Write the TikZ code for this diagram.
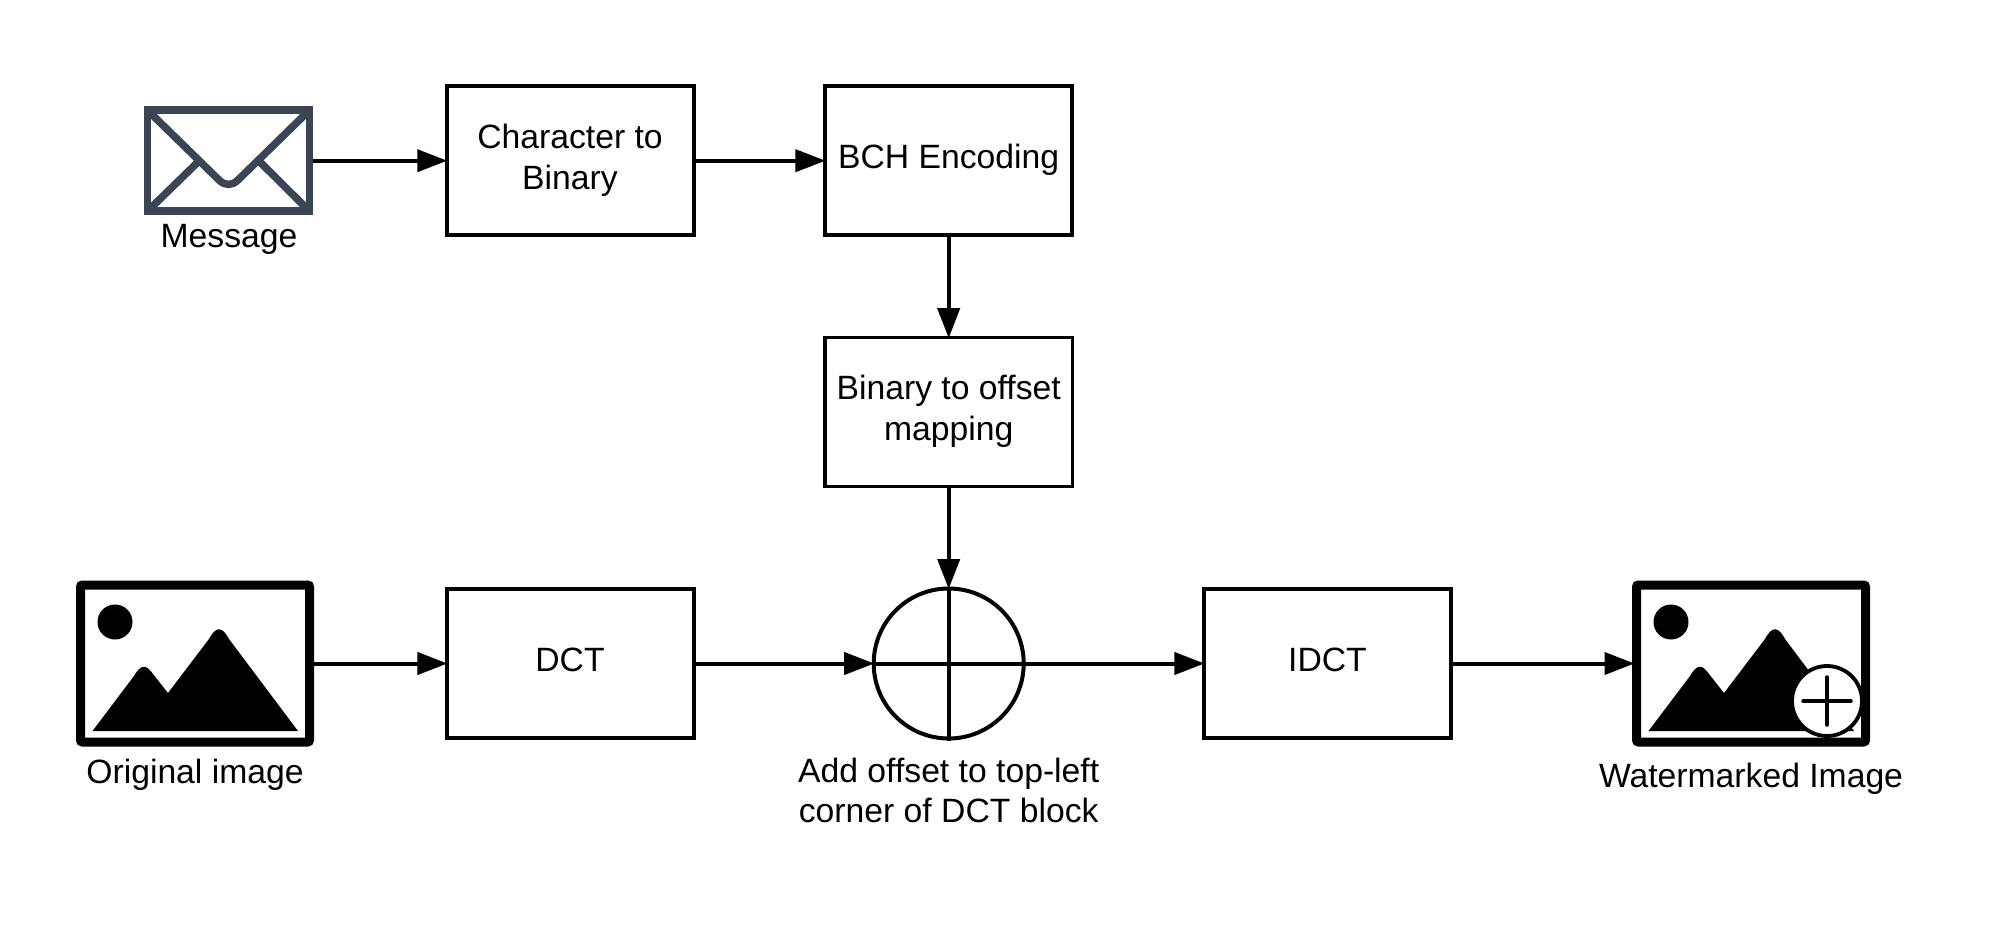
\documentclass[tikz,border=0pt]{standalone}
\usepackage{fontspec}
\setmainfont{Liberation Sans}
\usetikzlibrary{arrows.meta,calc}
\definecolor{envcol}{HTML}{3A4655}
\tikzset{
  x=1pt,y=-1pt,
  boxthick/.style={draw=black,line width=4pt,minimum width=247.5pt,minimum height=149pt,inner sep=0pt},
  boxthin/.style={draw=black,line width=3.6pt,minimum width=247.5pt,minimum height=149pt,inner sep=0pt},
  txt/.style={font=\fontsize{33.7pt}{41pt}\selectfont,align=center,inner sep=0pt,text=black},
  conn/.style={line width=4pt,shorten >=-2.5pt,-{Triangle[length=30pt,width=22pt]}},
  plain/.style={line width=4pt},
  frameicon/.style={draw=black,line width=9pt,rounded corners=2pt,minimum width=229pt,minimum height=157pt,inner sep=0pt},
  envicon/.style={draw=envcol,line width=7.5pt,minimum width=162pt,minimum height=101pt,inner sep=0pt},
  sumcircle/.style={circle,draw=black,line width=4pt,minimum size=150pt,inner sep=0pt},
}
\begin{document}
\begin{tikzpicture}
\useasboundingbox (0,0) rectangle (2016,926);
% boxes
\node[boxthick] (chr) at (570.5,160.7) {};
\node[boxthick] (bch) at (948.7,160.7) {};
\node[boxthin] (map) at (948.7,412) {};
\node[boxthin] (dct) at (570.5,663.5) {};
\node[boxthin] (idct) at (1327.5,663.5) {};
\node[sumcircle] (sum) at (948.7,663.5) {};
% box texts
\node[txt] (tchr) at (570,160) {Character to\\Binary};
\node[txt,anchor=base] (tbch) at (948.7,168) {BCH Encoding};
\node[txt] (tmap) at (948.7,411) {Binary to offset\\mapping};
\node[txt,anchor=base] (tdct) at (570,671) {DCT};
\node[txt,anchor=base] (tidct) at (1327.5,671) {IDCT};
% envelope
\node[envicon] (msg) at (228.5,160.7) {};
\draw[envcol,line width=7.5pt,line join=round]
  ($(msg.north west)+(3,3)$) -- (219,180) .. controls (225,186) and (232,186) .. (238,180) -- ($(msg.north east)+(-3,3)$);
\draw[envcol,line width=7.5pt] (198,162) -- ($(msg.south west)+(3,-3)$);
\draw[envcol,line width=7.5pt] (260,162) -- ($(msg.south east)+(-3,-3)$);
% original image icon
\node[frameicon] (orig) at (195,663.5) {};
\fill[black] (115,622) circle (17.5);
\fill[black] (92.5,731) -- (134,676) .. controls (141,664) and (146,664) .. (153,674) -- (168,693) -- (209,639) .. controls (216,626) and (222,626) .. (229,639) -- (298,731) -- cycle;
% watermarked icon
\node[frameicon] (wm) at (1751,663.5) {};
\fill[black] (1671,622) circle (17.5);
\fill[black] (1648.5,731) -- (1690,676) .. controls (1697,664) and (1702,664) .. (1709,674) -- (1724,693) -- (1765,639) .. controls (1772,626) and (1778,626) .. (1785,639) -- (1854,731) -- cycle;
\node[circle,draw=black,fill=white,line width=3.8pt,minimum size=70pt,inner sep=0pt] (wmplus) at (1827,701) {};
\draw[line width=3.4pt,line cap=round] ($(wmplus.center)+(-24,0)$) -- ($(wmplus.center)+(24,0)$);
\draw[line width=3.4pt,line cap=round] ($(wmplus.center)+(0,-24)$) -- ($(wmplus.center)+(0,24)$);
% labels
\node[txt,anchor=base] (lmsg) at (229,247) {Message};
\node[txt,anchor=base] (lorig) at (195,783) {Original image};
\node[txt,anchor=base] (lwm) at (1751,787.5) {Watermarked Image};
\node[txt,anchor=base] (lsum1) at (948.7,782) {Add offset to top-left};
\node[txt,anchor=base] (lsum2) at (948.7,822) {corner of DCT block};
% connectors
\draw[conn] (msg.east) -- (chr.west);
\draw[conn] (chr.east) -- (bch.west);
\draw[conn] (bch.south) -- (map.north);
\draw[conn] (map.south) -- (sum.north);
\draw[conn] (orig.east) -- (dct.west);
\draw[conn] (dct.east) -- (sum.west);
\draw[conn] (sum.east) -- (idct.west);
\draw[conn] (idct.east) -- (wm.west);
\draw[plain] (sum.north) -- (sum.south);
\draw[plain] (sum.west) -- (sum.east);
\end{tikzpicture}
\end{document}
